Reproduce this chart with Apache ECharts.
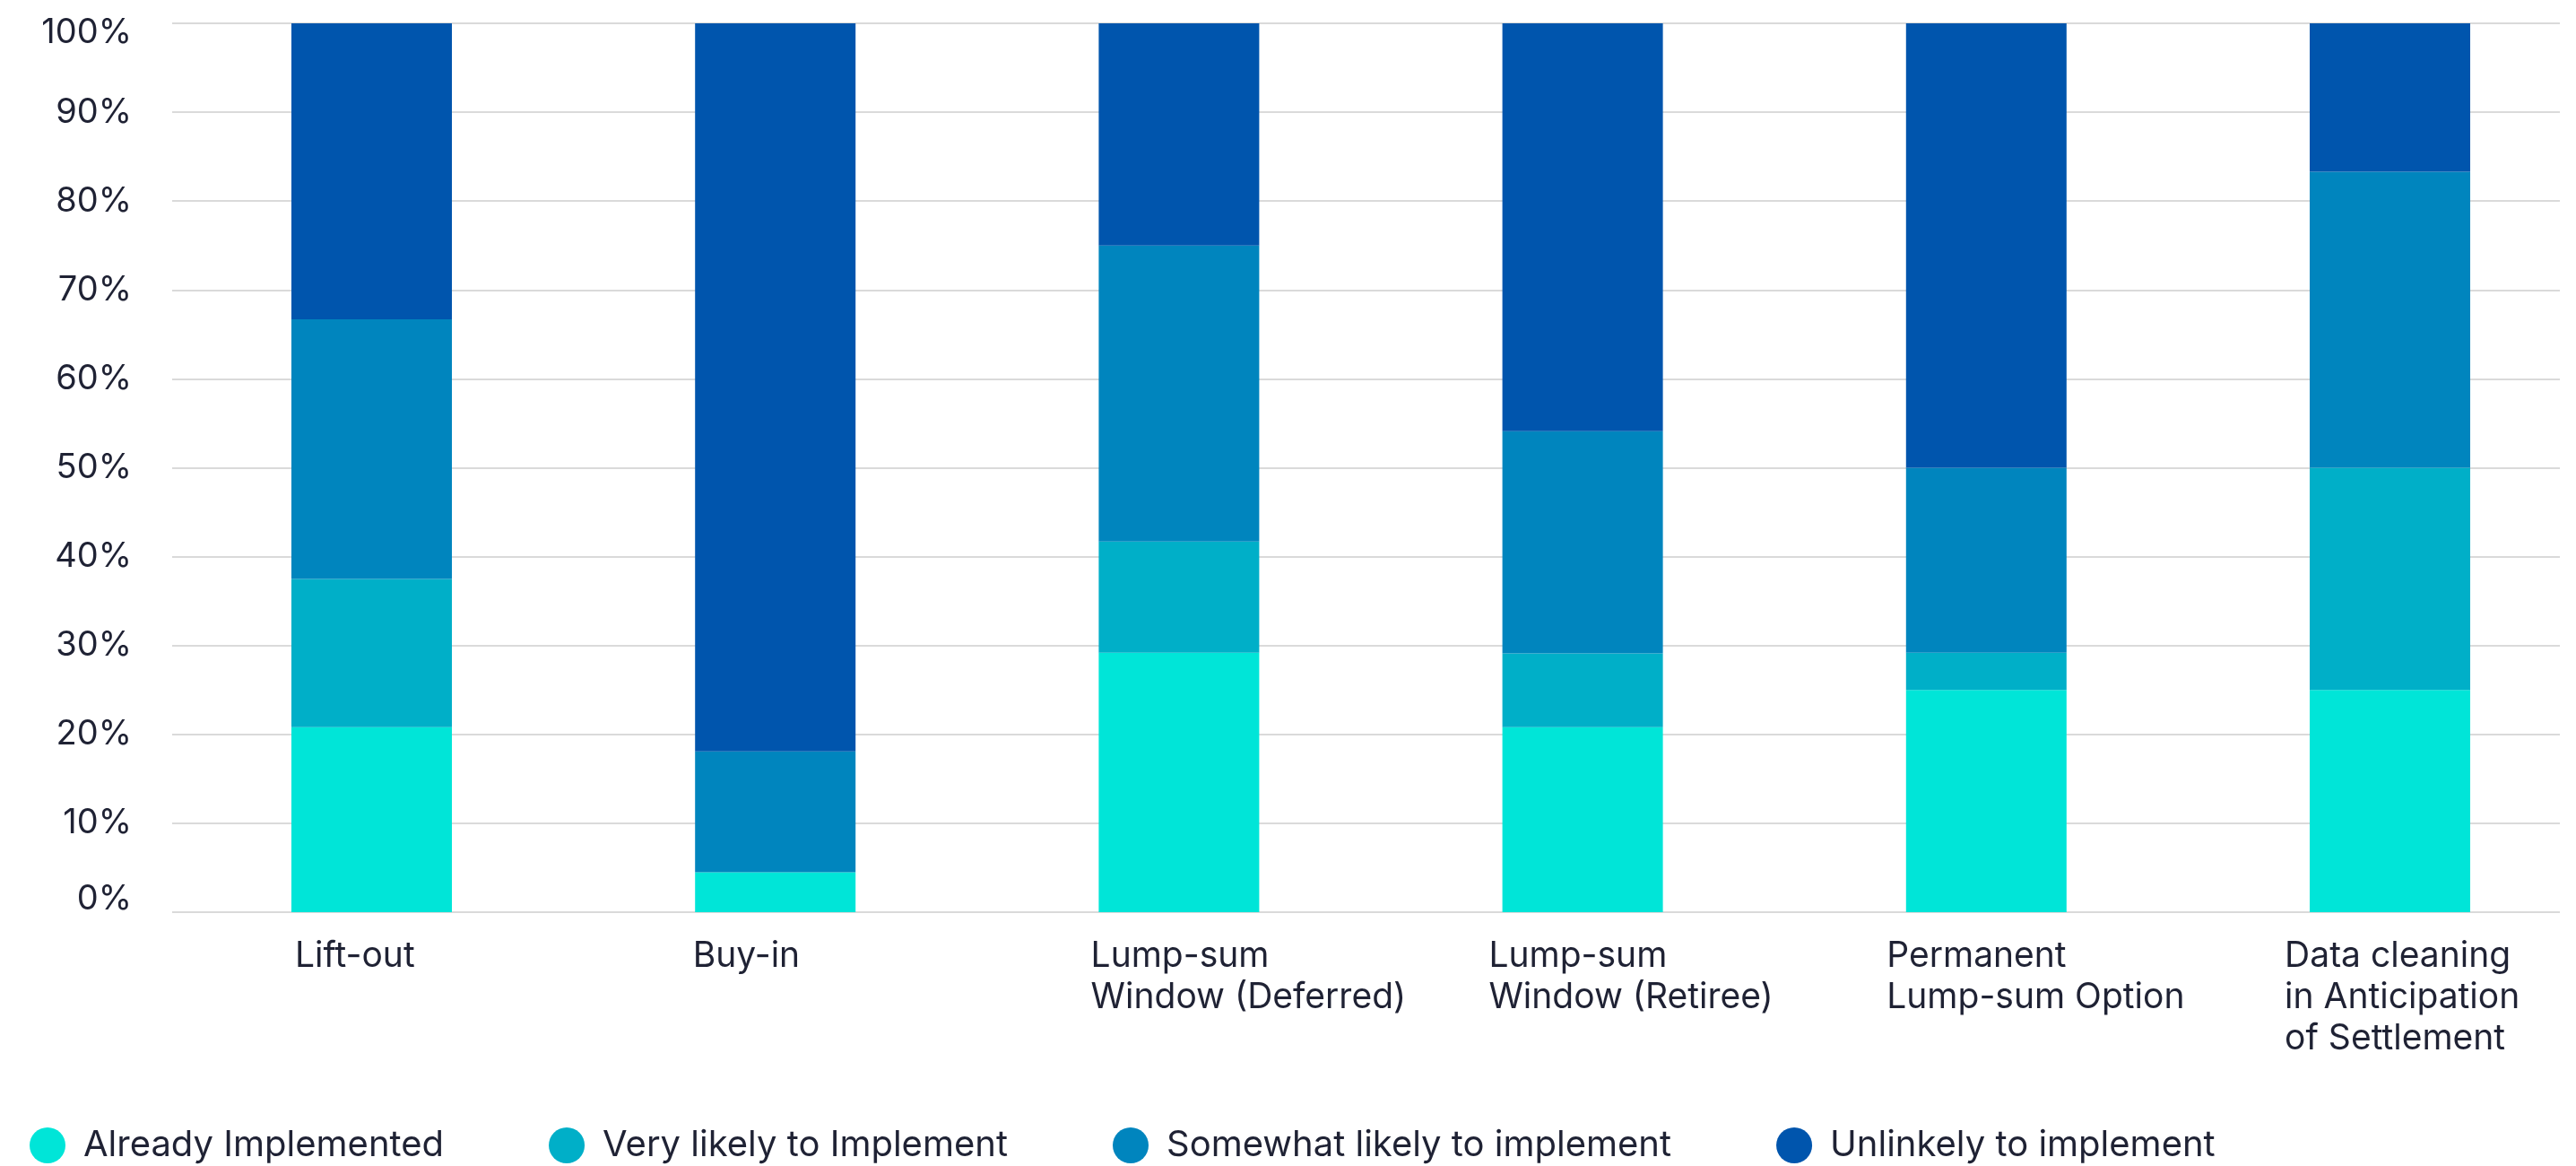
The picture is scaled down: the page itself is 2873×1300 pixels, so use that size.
<!DOCTYPE html>
<html>
<head>
<meta charset="utf-8">
<script src="https://cdn.jsdelivr.net/npm/echarts@6/dist/echarts.min.js"></script>
<style>
html,body{margin:0;padding:0;background:#fff;}
#chart{width:2873px;height:1300px;}
</style>
</head>
<body>
<div id="chart"></div>
<script>
const categories = ['Lift-out', 'Buy-in', 'Lump-sum\nWindow (Deferred)', 'Lump-sum\nWindow (Retiree)', 'Permanent\nLump-sum Option', 'Data cleaning\nin Anticipation\nof Settlement'];
const seriesNames = ['Already Implemented', 'Very likely to Implement', 'Somewhat likely to implement', 'Unlinkely to implement'];
const alreadyImplemented = [20.8, 4.5, 29.2, 20.8, 25.0, 25.0];
const veryLikely = [16.7, 0, 12.5, 8.3, 4.2, 25.0];
const somewhatLikely = [29.2, 13.6, 33.3, 25.0, 20.8, 33.3];
const unlikely = [33.3, 81.9, 25.0, 45.9, 50.0, 16.7];
const yTicks = [0, 10, 20, 30, 40, 50, 60, 70, 80, 90, 100];

const colors = ['#00E5D8', '#00AFC8', '#0085BE', '#0055AD'];
const textColor = '#1F2234';
const FONT = 'Inter';

const values = [alreadyImplemented, veryLikely, somewhatLikely, unlikely];

const chart = echarts.init(document.getElementById('chart'), null, {renderer: 'canvas'});
const option = {
  animation: false,
  backgroundColor: '#ffffff',
  textStyle: {fontFamily: FONT, color: textColor},
  grid: [
    {left: 414.5, right: 207.5, top: 26, height: 991},
    {left: 192, right: 18, top: 26, height: 991},
    {left: 107, width: 2663, top: 26, height: 991}
  ],
  legend: {
    left: 33, top: 1257,
    icon: 'circle',
    itemWidth: 40, itemHeight: 40, itemGap: 117,
    padding: 0,
    textStyle: {fontFamily: FONT, fontSize: 40, color: textColor, padding: [0, 0, 0, 15]},
    data: seriesNames
  },
  xAxis: [
    {gridIndex: 0, type: 'category', data: categories, boundaryGap: false, show: false},
    {gridIndex: 1, type: 'category', data: categories, axisLine: {show: false}, axisTick: {show: false}, axisLabel: {show: false}},
    {gridIndex: 2, type: 'category', data: categories, axisLine: {show: false}, axisTick: {show: false},
      axisLabel: {align: 'left', verticalAlign: 'top', margin: 26, fontFamily: FONT, fontSize: 39, lineHeight: 46, color: textColor, interval: 0}}
  ],
  yAxis: [
    {gridIndex: 0, type: 'value', min: 0, max: 100, show: false},
    {gridIndex: 1, type: 'value', min: 0, max: 100, interval: 10,
      axisLine: {show: false}, axisTick: {show: false},
      splitLine: {show: true, lineStyle: {color: '#DADADA', width: 2}},
      axisLabel: {
        margin: 45, fontFamily: FONT, fontSize: 38, color: textColor,
        formatter: function (v) {
          if (v === 100) return '{t|' + v + '%}';
          if (v === 0) return '{b|' + v + '%}';
          return v + '%';
        },
        rich: {
          t: {fontFamily: FONT, fontSize: 38, color: textColor, padding: [22, 0, 0, 0]},
          b: {fontFamily: FONT, fontSize: 38, color: textColor, padding: [0, 0, 28, 0]}
        }
      }
    },
    {gridIndex: 2, type: 'value', min: 0, max: 100, show: false}
  ],
  series: seriesNames.map((name, i) => ({
    name: name,
    type: 'bar',
    stack: 'total',
    xAxisIndex: 0,
    yAxisIndex: 0,
    barWidth: 179,
    itemStyle: {color: colors[i]},
    data: values[i]
  }))
};
chart.setOption(option);
</script>
</body>
</html>
